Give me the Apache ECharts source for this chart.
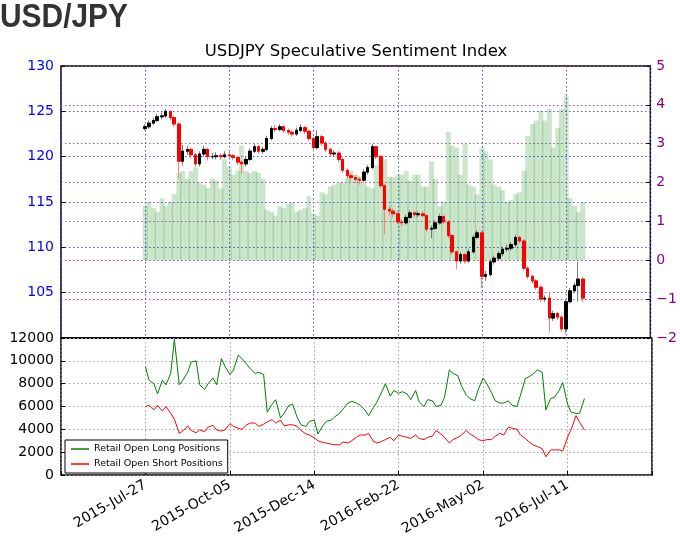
<!DOCTYPE html>
<html><head><meta charset="utf-8">
<script src="https://cdn.jsdelivr.net/npm/echarts@6/dist/echarts.min.js"></script>
<style>html,body{margin:0;padding:0;background:#fff}#c{width:680px;height:541px}</style>
</head><body><div id="c"></div><script>
const xStart = '2015-05-18';
const xEnd = '2016-09-19';
const dates = ['2015-07-27','2015-07-30','2015-08-03','2015-08-06','2015-08-10','2015-08-13','2015-08-17','2015-08-20','2015-08-24','2015-08-27',
'2015-08-31','2015-09-03','2015-09-07','2015-09-10','2015-09-14','2015-09-17','2015-09-21','2015-09-24','2015-09-28','2015-10-01',
'2015-10-05','2015-10-08','2015-10-12','2015-10-15','2015-10-19','2015-10-22','2015-10-26','2015-10-29','2015-11-02','2015-11-05',
'2015-11-09','2015-11-12','2015-11-16','2015-11-19','2015-11-23','2015-11-26','2015-11-30','2015-12-03','2015-12-07','2015-12-10',
'2015-12-14','2015-12-17','2015-12-21','2015-12-24','2015-12-28','2015-12-31','2016-01-04','2016-01-07','2016-01-11','2016-01-14',
'2016-01-18','2016-01-21','2016-01-25','2016-01-28','2016-02-01','2016-02-04','2016-02-08','2016-02-11','2016-02-15','2016-02-18',
'2016-02-22','2016-02-25','2016-02-29','2016-03-03','2016-03-07','2016-03-10','2016-03-14','2016-03-17','2016-03-21','2016-03-24',
'2016-03-28','2016-03-31','2016-04-04','2016-04-07','2016-04-11','2016-04-14','2016-04-18','2016-04-21','2016-04-25','2016-04-28',
'2016-05-02','2016-05-05','2016-05-09','2016-05-12','2016-05-16','2016-05-19','2016-05-23','2016-05-26','2016-05-30','2016-06-02',
'2016-06-06','2016-06-09','2016-06-13','2016-06-16','2016-06-20','2016-06-23','2016-06-27','2016-06-30','2016-07-04','2016-07-07',
'2016-07-11','2016-07-14','2016-07-18','2016-07-21','2016-07-25'];

const priceOpen = [123.1,123.3,123.7,124.0,124.4,124.5,125.0,124.3,123.6,119.5,
120.6,120.8,120.2,119.2,120.3,120.8,120.0,120.0,120.1,120.0,
120.2,120.1,119.9,119.4,119.2,119.7,120.6,121.1,120.6,120.8,
122.0,123.1,123.0,123.3,122.9,122.7,122.5,122.9,123.2,122.8,
122.0,121.0,122.2,121.5,120.8,120.3,120.4,119.7,118.5,117.9,
117.7,117.5,117.4,118.3,118.8,121.1,120.0,116.8,114.2,114.0,
113.7,112.8,112.7,113.3,113.8,113.6,113.7,113.5,112.0,112.1,
112.7,113.4,112.8,111.3,109.5,108.5,109.2,108.5,109.5,111.1,
111.6,106.8,107.0,108.4,108.8,109.3,109.8,109.9,110.3,111.1,
110.7,107.7,106.8,106.3,105.6,104.3,104.4,102.2,102.7,102.3,
101.0,104.0,105.2,105.8,106.5];
const priceClose = [123.3,123.7,124.0,124.4,124.5,125.0,124.3,123.6,119.5,120.6,
120.8,120.2,119.2,120.3,120.8,120.0,120.0,120.1,120.0,120.2,
120.1,119.9,119.4,119.2,119.7,120.6,121.1,120.6,120.8,122.0,
123.1,123.0,123.3,122.9,122.7,122.5,122.9,123.2,122.8,122.0,
121.0,122.2,121.5,120.8,120.3,120.4,119.7,118.5,117.9,117.7,
117.5,117.4,118.3,118.8,121.1,120.0,116.8,114.2,114.0,113.7,
112.8,112.7,113.3,113.8,113.6,113.7,113.5,112.0,112.1,112.7,
113.4,112.8,111.3,109.5,108.5,109.2,108.5,109.5,111.1,111.6,
106.8,107.0,108.4,108.8,109.3,109.8,109.9,110.3,111.1,110.7,
107.7,106.8,106.3,105.6,104.3,104.4,102.2,102.7,102.3,101.0,
104.0,105.2,105.8,106.5,104.4];
const priceHigh = [123.6,124.0,124.3,124.7,124.9,125.3,125.1,124.5,123.8,121.3,
121.2,121.0,120.4,120.6,121.2,121.0,120.4,120.5,120.4,120.6,
120.5,120.3,120.1,119.6,120.0,120.9,121.4,121.3,121.1,122.3,
123.4,123.5,123.6,123.5,123.1,122.9,123.2,123.6,123.4,123.0,
122.2,122.9,122.4,121.7,121.0,120.7,120.6,119.9,118.7,118.2,
118.0,117.8,118.6,119.1,121.4,121.2,120.2,117.0,114.6,114.3,
114.0,113.1,113.6,114.1,114.0,114.0,114.0,113.7,112.4,113.0,
113.7,113.6,113.0,111.5,109.7,109.5,109.4,109.8,111.4,111.9,
111.8,107.4,108.7,109.1,109.6,110.1,110.3,110.6,111.4,111.3,
110.9,107.9,107.0,106.5,105.8,104.7,105.1,103.0,102.9,102.5,
104.3,105.5,106.1,108.4,106.7];
const priceLow = [122.9,123.1,123.5,123.8,124.1,124.3,124.0,123.3,117.6,119.0,
120.2,119.8,118.9,118.9,120.0,119.6,119.7,119.7,119.6,119.8,
119.8,119.6,119.1,118.1,118.9,119.5,120.4,120.3,120.3,120.6,
121.8,122.7,122.8,122.6,122.4,122.2,122.3,122.7,122.5,121.7,
120.6,120.8,121.2,120.5,120.0,120.0,119.4,118.2,117.5,117.3,
117.1,116.9,117.2,118.0,118.6,119.7,116.5,111.4,113.5,113.3,
112.5,112.3,112.5,113.1,113.3,113.3,113.2,111.7,111.0,111.9,
112.5,112.5,111.0,109.2,107.6,108.2,108.2,108.3,109.3,110.9,
105.5,106.3,106.8,108.1,108.5,109.0,109.5,109.6,110.0,110.4,
107.4,106.5,106.0,105.3,104.0,104.0,100.6,101.9,102.0,100.7,
100.5,103.8,105.0,104.0,104.0];

const ssi = [1.4,1.5,1.35,1.25,1.6,1.4,1.5,1.7,2.25,2.3,
2.1,2.3,2.4,2.0,1.95,1.85,2.1,2.05,1.85,2.6,
2.4,2.2,2.3,2.95,2.3,2.25,2.3,2.25,2.1,1.3,
1.25,1.15,1.4,1.35,1.45,1.5,1.25,1.3,1.35,1.65,
1.2,1.15,1.75,1.7,1.9,1.95,2.0,2.0,2.1,2.3,
2.2,2.15,2.0,1.9,1.85,2.45,2.7,2.6,2.15,2.15,
2.2,2.2,2.3,2.05,2.2,2.2,1.9,1.9,2.55,2.1,
1.4,1.5,3.3,2.95,2.9,2.2,3.0,1.95,1.9,1.7,
2.9,2.8,2.6,1.95,1.9,1.8,1.5,1.55,1.7,1.75,
2.3,3.2,3.5,3.6,3.85,3.6,3.9,2.9,3.4,3.9,
4.25,1.6,1.4,1.25,1.5];

const longPos = [9500,8300,8000,7100,8300,7900,8900,11900,7900,8300,
9000,9900,10000,7900,7500,8000,8500,7900,10200,9500,
8800,9200,10500,10200,9700,9300,8900,9000,8800,5500,
6200,6600,5000,5400,6100,6200,5000,4400,4250,4700,
4800,3600,4300,4700,4800,5100,5400,5800,6300,6450,
6300,6100,5700,5200,5900,6400,7300,8000,6900,7400,
7150,7300,7100,6600,7400,6400,6000,6600,6500,6000,
6100,6800,9200,8900,8700,7800,7000,6700,6500,7500,
8500,8000,7200,6500,6300,6300,6500,6100,6000,7000,
8450,8600,8900,9200,9000,5700,6700,6800,7400,8100,
6200,5500,5400,5400,6700];
const shortPos = [6000,6100,5700,6100,5600,6000,5400,4900,3650,3850,
4300,3900,3700,3950,3800,4200,4350,3950,3850,3950,
4500,4250,4100,4000,4400,4550,4550,4250,4450,4650,
4850,4550,4800,4300,4400,4400,4250,3900,3600,3500,
3250,3000,2850,2800,2700,2650,2650,2900,2800,3000,
3300,3500,3500,3650,2950,2800,2950,3100,3300,3000,
3500,3400,3300,3200,3500,3200,3100,3300,3400,3900,
3600,3300,2800,3100,3300,3500,3900,3600,3350,3100,
3000,3100,3100,3400,3650,3500,4200,4100,4000,3500,
3200,2900,2600,2500,2300,1600,2200,2200,2200,2100,
3300,4000,5200,4600,3950];

const MON = ['Jan','Feb','Mar','Apr','May','Jun','Jul','Aug','Sep','Oct','Nov','Dec'];
const base = Date.parse(xStart + 'T00:00:00Z');
const toDay = s => Math.round((Date.parse(s + 'T00:00:00Z') - base) / 864e5);
const fmtDay = d => { const t = new Date(base + d * 864e5);
  return t.getUTCFullYear() + '-' + MON[t.getUTCMonth()] + '-' + String(t.getUTCDate()).padStart(2, '0'); };
const X0 = 0, X1 = toDay(xEnd);
const xs = dates.map(toDay);

const candleAll = xs.map((x, i) => [x, priceOpen[i], priceClose[i], priceLow[i], priceHigh[i]]);
const candleBody = xs.map((x, i) => [x, priceOpen[i], priceClose[i], Math.min(priceOpen[i], priceClose[i]), Math.max(priceOpen[i], priceClose[i])]);
const ssiData = xs.map((x, i) => [x, ssi[i]]);
const longData = xs.map((x, i) => [x, longPos[i]]);
const shortData = xs.map((x, i) => [x, shortPos[i]]);

const FONT = 'DejaVu Sans';
const blueDot = {color: '#4d4dff', type: [1.5, 2.5], width: 1};
const purpleDot = {color: '#b04db0', type: [1.5, 2.5], width: 1};
const grayDot = {color: '#a0a0a0', type: [1.5, 2.5], width: 1};

const chart = echarts.init(document.getElementById('c'), null, {renderer: 'canvas'});
chart.setOption({
  animation: false,
  backgroundColor: '#fff',
  graphic: [
    {type: 'text', x: 0, y: 1, scaleX: 0.88, style: {text: 'USD/JPY', font: 'bold 34px "Liberation Sans", sans-serif', fill: '#333'}},
    {type: 'text', x: 356, y: 52, style: {text: 'USDJPY Speculative Sentiment Index', font: '16.5px "DejaVu Sans"', fill: '#000', textAlign: 'center', textVerticalAlign: 'middle'}}
  ],
  grid: [
    {left: 61, right: 28, top: 66, height: 272, show: true, borderColor: '#000', borderWidth: 1.5, backgroundColor: 'transparent'},
    {left: 61, right: 28, top: 338, height: 137, show: true, borderColor: '#000', borderWidth: 1.5, backgroundColor: 'transparent'}
  ],
  legend: {
    data: ['Retail Open Long Positions', 'Retail Open Short Positions'],
    orient: 'vertical', left: 65, top: 440, icon: 'rect', itemWidth: 18, itemHeight: 1.5, itemGap: 5,
    padding: [4, 5, 4, 6], borderColor: '#000', borderWidth: 1, backgroundColor: '#fff',
    textStyle: {fontSize: 9.5, fontFamily: FONT, color: '#000'}
  },
  xAxis: [
    {type: 'value', gridIndex: 0, min: X0, max: X1, interval: 70,
     axisLabel: {show: false}, axisLine: {show: false}, axisTick: {show: false},
     splitLine: {show: true, lineStyle: blueDot}},
    {type: 'value', gridIndex: 1, min: X0, max: X1, interval: 70,
     axisLabel: {rotate: 30, fontSize: 14, fontFamily: FONT, color: '#000', margin: 9,
       formatter: v => (v === X0 || v === X1) ? '' : fmtDay(v)},
     axisLine: {show: false}, axisTick: {show: true, inside: true, length: 4, lineStyle: {color: '#000'}},
     splitLine: {show: true, lineStyle: grayDot}}
  ],
  yAxis: [
    {type: 'value', gridIndex: 0, min: 100, max: 130, interval: 5, position: 'left',
     axisLabel: {color: '#0000ff', fontSize: 14, fontFamily: FONT, margin: 7, formatter: v => v === 100 ? '' : String(v)},
     axisLine: {show: false}, axisTick: {show: true, inside: true, length: 4, lineStyle: {color: '#000'}},
     splitLine: {show: true, lineStyle: blueDot}},
    {type: 'value', gridIndex: 0, min: -2, max: 5, interval: 1, position: 'right',
     axisLabel: {color: '#8b008b', fontSize: 14, fontFamily: FONT, margin: 6, formatter: v => String(v).replace('-', '\u2212')},
     axisLine: {show: false}, axisTick: {show: true, inside: true, length: 4, lineStyle: {color: '#000'}},
     splitLine: {show: true, lineStyle: purpleDot}},
    {type: 'value', gridIndex: 1, min: 0, max: 12000, interval: 2000,
     axisLabel: {color: '#000', fontSize: 14, fontFamily: FONT, margin: 7, formatter: v => String(v)},
     axisLine: {show: false}, axisTick: {show: true, inside: true, length: 4, lineStyle: {color: '#000'}},
     splitLine: {show: true, lineStyle: grayDot}}
  ],
  series: [
    {name: 'SSI', type: 'bar', xAxisIndex: 0, yAxisIndex: 1, data: ssiData, barWidth: 5, z: 1,
     itemStyle: {color: 'rgba(0,128,0,0.2)'}},
    {name: 'USDJPY', type: 'candlestick', xAxisIndex: 0, yAxisIndex: 0, data: candleAll, barWidth: 3, z: 3,
     dimensions: ['day', 'open', 'close', 'lowest', 'highest'],
     encode: {x: 'day', y: ['open', 'close', 'lowest', 'highest']},
     itemStyle: {color: '#7a7a7a', color0: '#ff8080', borderColor: '#7a7a7a', borderColor0: '#ff8080', borderWidth: 1}},
    {name: 'USDJPY body', type: 'candlestick', xAxisIndex: 0, yAxisIndex: 0, data: candleBody, barWidth: 3, z: 4,
     dimensions: ['day', 'open', 'close', 'lowest', 'highest'],
     encode: {x: 'day', y: ['open', 'close', 'lowest', 'highest']},
     itemStyle: {color: '#000', color0: '#ff0000', borderColor: '#000', borderColor0: '#ff0000', borderWidth: 1}},
    {name: 'Retail Open Long Positions', type: 'line', xAxisIndex: 1, yAxisIndex: 2, data: longData,
     symbol: 'none', lineStyle: {color: '#008000', width: 1}, itemStyle: {color: '#008000'}},
    {name: 'Retail Open Short Positions', type: 'line', xAxisIndex: 1, yAxisIndex: 2, data: shortData,
     symbol: 'none', lineStyle: {color: '#ff0000', width: 1}, itemStyle: {color: '#ff0000'}}
  ]
});
</script></body></html>
